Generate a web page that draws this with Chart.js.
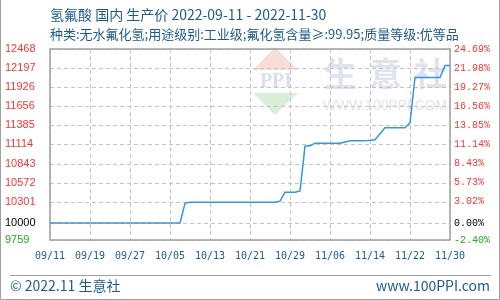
<!DOCTYPE html>
<html>
<head>
<meta charset="utf-8">
<script src="https://cdn.jsdelivr.net/npm/chart.js@4.4.1/dist/chart.umd.min.js"></script>
<style>
html,body{margin:0;padding:0;background:#fff;}
#wrap{width:500px;height:300px;position:relative;}
</style>
</head>
<body>
<div id="wrap"><canvas id="c" width="500" height="300"></canvas></div>
<script>
// ---- data ----
const titleText = '氢氟酸 国内 生产价 2022-09-11 - 2022-11-30';
const subtitleText = '种类:无水氟化氢;用途级别:工业级;氟化氢含量≥:99.95;质量等级:优等品';
const footerLeft = '© 2022.11 生意社';
const footerRight = 'www.100PPI.com';

const dates  = ['2022-09-11','2022-10-07','2022-10-08','2022-10-09','2022-10-26','2022-10-27','2022-10-28','2022-10-30','2022-10-31','2022-11-01','2022-11-02','2022-11-03','2022-11-08','2022-11-09','2022-11-10','2022-11-13','2022-11-14','2022-11-15','2022-11-17','2022-11-21','2022-11-22','2022-11-23','2022-11-28','2022-11-29','2022-11-30'];
const prices = [10000,10000,10280,10295,10295,10310,10436,10436,10455,11090,11095,11130,11130,11150,11165,11165,11175,11180,11350,11350,11420,12065,12065,12235,12235];

const xTickLabels = ['09/11','09/19','09/27','10/05','10/13','10/21','10/29','11/06','11/14','11/22','11/30'];
const yTickValues = [9759,10000,10301,10572,10843,11114,11385,11656,11926,12197,12468];
const yLeftLabels = ['9759','10000','10301','10572','10843','11114','11385','11656','11926','12197','12468'];
const yRightLabels = ['-2.40%','0.00%','3.02%','5.73%','8.43%','11.14%','13.85%','16.56%','19.27%','21.98%','24.69%'];
const baseValue = 10000;

// ---- helpers ----
const startDate = new Date(2022, 8, 11);
function dayIndexFull(s){ const p=s.split('-'); return Math.round((new Date(+p[0], +p[1]-1, +p[2]) - startDate)/86400000); }
function dayIndexMD(s){ const p=s.split('/'); return Math.round((new Date(2022, +p[0]-1, +p[1]) - startDate)/86400000); }
const points = dates.map((d,i)=>({x: dayIndexFull(d), y: prices[i]}));
const xTickPos = xTickLabels.map(dayIndexMD);

function tickColor(v){ return v > baseValue ? '#ff3333' : (v === baseValue ? '#000000' : '#22aa22'); }
const blue = '#1e5b8c';

const decor = {
  id: 'decor',
  beforeDraw(chart){
    const ctx = chart.ctx;
    ctx.save();
    ctx.fillStyle = '#fff';
    ctx.fillRect(0,0,500,300);
    // watermark logo
    ctx.fillStyle = 'rgba(240,170,160,0.40)';
    ctx.beginPath(); ctx.moveTo(275,47); ctx.lineTo(298,70); ctx.lineTo(253,70); ctx.closePath(); ctx.fill();
    ctx.fillStyle = 'rgba(150,210,150,0.35)';
    ctx.beginPath(); ctx.moveTo(253,93); ctx.lineTo(298,93); ctx.lineTo(275,115); ctx.closePath(); ctx.fill();
    ctx.fillStyle = 'rgba(170,185,215,0.45)';
    ctx.font = 'bold 20px "Liberation Serif"';
    ctx.textAlign = 'center'; ctx.textBaseline = 'middle';
    ctx.fillText('PPI', 276, 82);
    // watermark text
    ctx.fillStyle = 'rgba(190,200,222,0.50)';
    ctx.font = 'bold 33px "Noto Sans CJK SC"';
    ctx.textAlign = 'left';
    const wm = '生意社';
    for (let i=0;i<wm.length;i++) ctx.fillText(wm[i], 324 + i*45, 73);
    ctx.fillStyle = 'rgba(200,200,200,0.50)';
    ctx.font = '15px "Liberation Sans"';
    const w = ctx.measureText('WWW.100PPI.COM').width;
    ctx.save(); ctx.translate(323,106); ctx.scale(124/w,1); ctx.fillText('WWW.100PPI.COM',0,0); ctx.restore();
    ctx.restore();
  },
  beforeDatasetsDraw(chart){
    const {ctx, chartArea:a, scales} = chart;
    ctx.save();
    // dashed grid through the library's scales
    ctx.strokeStyle = '#c4c4c4'; ctx.lineWidth = 1; ctx.setLineDash([4,3]);
    scales.x.ticks.forEach(t => {
      const px = Math.round(scales.x.getPixelForValue(t.value)) + 0.5;
      ctx.beginPath(); ctx.moveTo(px, a.top); ctx.lineTo(px, a.bottom); ctx.stroke();
    });
    scales.y.ticks.forEach(t => {
      const py = Math.round(scales.y.getPixelForValue(t.value)) + 0.5;
      ctx.beginPath(); ctx.moveTo(a.left, py); ctx.lineTo(a.right, py); ctx.stroke();
    });
    ctx.setLineDash([]);
    ctx.strokeStyle = '#a0a0a0'; ctx.lineWidth = 1.5;
    ctx.strokeRect(a.left, a.top, a.right-a.left, a.bottom-a.top);
    ctx.restore();
  },
  afterDraw(chart){
    const ctx = chart.ctx;
    ctx.save();
    ctx.fillStyle = blue;
    ctx.textAlign = 'left'; ctx.textBaseline = 'middle';
    ctx.font = '14px "Noto Sans CJK SC"';
    ctx.fillText(titleText, 50, 15);
    ctx.font = '13px "Noto Sans CJK SC"';
    ctx.fillText(subtitleText, 50, 34);
    // footer
    ctx.strokeStyle = '#a0a0a0'; ctx.lineWidth = 1;
    ctx.beginPath(); ctx.moveTo(10,275.5); ctx.lineTo(491,275.5); ctx.stroke();
    ctx.font = '14px "Noto Sans CJK SC"';
    ctx.fillText(footerLeft, 10, 286);
    ctx.textAlign = 'right';
    ctx.fillText(footerRight, 490, 286);
    // outer frame
    ctx.strokeStyle = '#a0a0a0'; ctx.lineWidth = 1;
    ctx.beginPath(); ctx.moveTo(0.5,0); ctx.lineTo(0.5,299.5); ctx.lineTo(499.5,299.5); ctx.lineTo(499.5,0); ctx.stroke();
    ctx.restore();
  }
};

new Chart(document.getElementById('c'), {
  type: 'line',
  data: { datasets: [{
    data: points, borderColor: '#3399db', borderWidth: 1.5, pointRadius: 0, tension: 0, fill: false
  }]},
  options: {
    responsive: false, animation: false, devicePixelRatio: 1,
    layout: { padding: { top: 49, left: 5, right: 0, bottom: 0 } },
    plugins: { legend: {display:false}, tooltip: {enabled:false} },
    scales: {
      x: {
        type: 'linear', min: 0, max: 80,
        afterBuildTicks: s => { s.ticks = xTickPos.map(v=>({value:v})); },
        afterFit: s => { s.height = 60; },
        grid: { display: false, drawTicks: false },
        border: { display: false },
        ticks: {
          autoSkip: false, maxRotation: 0, padding: 10,
          color: blue, font: { family: '"DejaVu Sans Mono"', size: 10 },
          callback: (v, i) => xTickLabels[i]
        }
      },
      y: {
        type: 'linear', position: 'left', min: 9759, max: 12468,
        afterBuildTicks: s => { s.ticks = yTickValues.map(v=>({value:v})); },
        afterFit: s => { s.width = 45; },
        grid: { display: false, drawTicks: false },
        border: { display: false },
        ticks: {
          crossAlign: 'far', padding: 4,
          color: c => tickColor(c.tick.value),
          font: { family: '"Liberation Sans"', size: 11 },
          callback: (v, i) => yLeftLabels[i]
        }
      },
      y2: {
        type: 'linear', position: 'right', min: 9759, max: 12468,
        afterBuildTicks: s => { s.ticks = yTickValues.map(v=>({value:v})); },
        afterFit: s => { s.width = 50; },
        grid: { display: false, drawTicks: false },
        border: { display: false },
        ticks: {
          crossAlign: 'near', padding: 4,
          color: c => tickColor(c.tick.value),
          font: { family: '"Liberation Mono"', size: 10 },
          callback: (v, i) => yRightLabels[i]
        }
      }
    }
  },
  plugins: [decor]
});
</script>
</body>
</html>
